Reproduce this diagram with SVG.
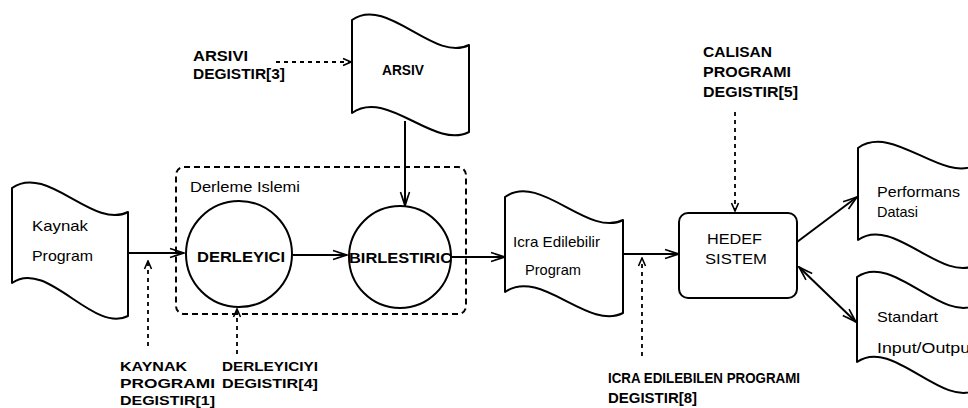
<svg xmlns="http://www.w3.org/2000/svg" width="968" height="408" viewBox="0 0 968 408">
<defs>
<marker id="ah" markerUnits="userSpaceOnUse" markerWidth="16" markerHeight="12" viewBox="0 0 16 12" refX="15" refY="6" orient="auto-start-reverse">
<path d="M1,1.5 L15,6 L1,10.5 M5,3 L15,6 L5,9" fill="none" stroke="#000" stroke-width="1.6"/>
</marker>
<marker id="ahs" markerUnits="userSpaceOnUse" markerWidth="10" markerHeight="10" viewBox="0 0 10 10" refX="9" refY="5" orient="auto">
<path d="M1,1.5 L9,5 L1,8.5" fill="none" stroke="#000" stroke-width="1.6"/>
</marker>
</defs>
<style>
.doc{fill:#fff;stroke:#000;stroke-width:2;stroke-linejoin:round}
.nd{fill:#fff;stroke:#000;stroke-width:2}
.ln{fill:none;stroke:#000;stroke-width:2;marker-end:url(#ah)}
.dl{fill:none;stroke:#000;stroke-width:1.8;stroke-dasharray:4 4;marker-end:url(#ahs)}
.t{font-family:"Liberation Sans",Arial,sans-serif;font-size:14px;fill:#000}
.m{font-size:15px}
.b{font-weight:bold}
.big{font-size:15px}
.sm{font-size:13px}
</style>
<rect width="968" height="408" fill="#fff"/>

<g id="derleme-islemi">
<rect x="176" y="167" width="290" height="147" rx="8" fill="none" stroke="#000" stroke-width="2" stroke-dasharray="6 4"/>
<text class="t m" x="190" y="192" textLength="110" lengthAdjust="spacingAndGlyphs">Derleme Islemi</text>
</g>

<g id="kaynak-program">
<path class="doc" d="M12,188 C47,163 93,230 128,212 L128,316 C93,334 47,258 12,283 Z"/>
<text class="t m" x="32" y="231" textLength="56" lengthAdjust="spacingAndGlyphs">Kaynak</text>
<text class="t m" x="32" y="261" textLength="61" lengthAdjust="spacingAndGlyphs">Program</text>
</g>

<g id="arsiv">
<path class="doc" d="M352,20 C387,-5 434,63 469,45 L469,132 C434,150 387,88 352,113 Z"/>
<text class="t b" x="382" y="75" textLength="42" lengthAdjust="spacingAndGlyphs">ARSIV</text>
</g>

<g id="derleyici">
<circle class="nd" cx="239" cy="254" r="53"/>
<text class="t b big" x="197" y="262" textLength="88" lengthAdjust="spacingAndGlyphs">DERLEYICI</text>
</g>

<g id="birlestiric">
<circle class="nd" cx="400" cy="257" r="51"/>
<text class="t b big" x="349" y="263" textLength="103" lengthAdjust="spacingAndGlyphs">BIRLESTIRIC</text>
</g>

<g id="icra-edilebilir-program">
<path class="doc" d="M505,197 C540,172 588,238 623,220 L623,313 C588,331 540,267 505,292 Z"/>
<text class="t m" x="513" y="247" textLength="87" lengthAdjust="spacingAndGlyphs">Icra Edilebilir</text>
<text class="t m" x="525" y="275" textLength="56" lengthAdjust="spacingAndGlyphs">Program</text>
</g>

<g id="hedef-sistem">
<rect class="nd" x="679" y="213" width="118" height="85" rx="9"/>
<text class="t m" x="707" y="244" textLength="55" lengthAdjust="spacingAndGlyphs">HEDEF</text>
<text class="t m" x="705" y="264" textLength="62" lengthAdjust="spacingAndGlyphs">SISTEM</text>
</g>

<g id="performans-datasi">
<path class="doc" d="M858,148 C893,123 941,183 976,165 L976,265 C941,283 893,215 858,240 Z"/>
<text class="t m" x="877" y="197" textLength="83" lengthAdjust="spacingAndGlyphs">Performans</text>
<text class="t m" x="877" y="217" textLength="41" lengthAdjust="spacingAndGlyphs">Datasi</text>
</g>

<g id="standart-io">
<path class="doc" d="M857,277 C892,252 941,323 976,305 L976,390 C941,408 892,337 857,362 Z"/>
<text class="t m" x="877" y="322" textLength="61" lengthAdjust="spacingAndGlyphs">Standart</text>
<text class="t m" x="877" y="353" textLength="98" lengthAdjust="spacingAndGlyphs">Input/Output</text>
</g>

<g id="label-arsivi">
<text class="t b" x="193" y="61" textLength="55" lengthAdjust="spacingAndGlyphs">ARSIVI</text>
<text class="t b" x="193" y="79" textLength="92" lengthAdjust="spacingAndGlyphs">DEGISTIR[3]</text>
</g>

<g id="label-calisan">
<text class="t b" x="703" y="57" textLength="69" lengthAdjust="spacingAndGlyphs">CALISAN</text>
<text class="t b" x="703" y="77" textLength="88" lengthAdjust="spacingAndGlyphs">PROGRAMI</text>
<text class="t b" x="703" y="97" textLength="95" lengthAdjust="spacingAndGlyphs">DEGISTIR[5]</text>
</g>

<g id="label-kaynak">
<text class="t b sm" x="120" y="371" textLength="67" lengthAdjust="spacingAndGlyphs">KAYNAK</text>
<text class="t b sm" x="120" y="388" textLength="95" lengthAdjust="spacingAndGlyphs">PROGRAMI</text>
<text class="t b sm" x="120" y="405" textLength="95" lengthAdjust="spacingAndGlyphs">DEGISTIR[1]</text>
</g>

<g id="label-derleyici">
<text class="t b sm" x="222" y="371" textLength="96" lengthAdjust="spacingAndGlyphs">DERLEYICIYI</text>
<text class="t b sm" x="222" y="388" textLength="96" lengthAdjust="spacingAndGlyphs">DEGISTIR[4]</text>
</g>

<g id="label-icra">
<text class="t b" x="608" y="383" textLength="192" lengthAdjust="spacingAndGlyphs">ICRA EDILEBILEN PROGRAMI</text>
<text class="t b" x="608" y="403" textLength="89" lengthAdjust="spacingAndGlyphs">DEGISTIR[8]</text>
</g>

<g id="connectors">
<path class="ln" d="M128,253 L184,253"/>
<path class="ln" d="M293,255 L347,255"/>
<path class="ln" d="M405,121 L405,206"/>
<path class="ln" d="M451,257 L505,257"/>
<path class="ln" d="M623,254 L679,254"/>
<path class="ln" d="M797,242 L857,197"/>
<path class="ln" d="M799,267 L856,322" marker-start="url(#ah)"/>
<path class="dl" d="M148,346 L148,261"/>
<path class="dl" d="M237,354 L237,309"/>
<path class="dl" d="M276,62 L351,62"/>
<path class="dl" d="M642,356 L642,258"/>
<path class="dl" d="M735,112 L735,211"/>
</g>
</svg>
